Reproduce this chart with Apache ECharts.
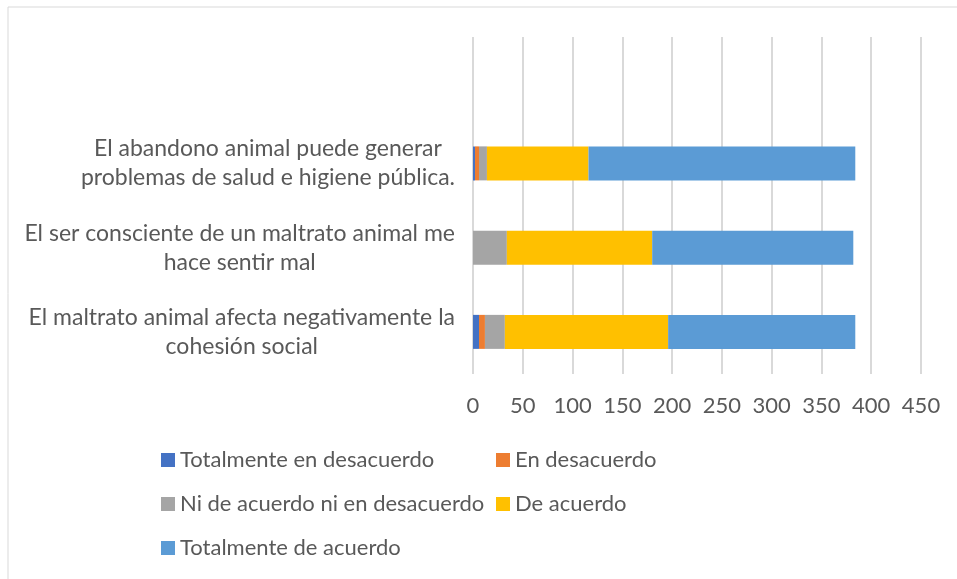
<!DOCTYPE html>
<html>
<head>
<meta charset="utf-8">
<script src="https://cdn.jsdelivr.net/npm/echarts@6/dist/echarts.min.js"></script>
<style>
  html, body { margin: 0; padding: 0; background: #fff; }
  #chart { width: 957px; height: 579px; }
</style>
</head>
<body>
<div id="chart"></div>
<script>
// categories bottom -> top; the top slot is empty in the original chart
const categories = [
  'El maltrato animal afecta negativamente la\ncohesión social',
  'El ser consciente de un maltrato animal me\nhace sentir mal',
  'El abandono animal puede generar\nproblemas de salud e higiene pública.',
  ''
]
const seriesNames = [
  'Totalmente en desacuerdo',
  'En desacuerdo',
  'Ni de acuerdo ni en desacuerdo',
  'De acuerdo',
  'Totalmente de acuerdo'
]
const totDesacuerdo = [6, 0, 2, null]
const enDesacuerdo = [6, 0, 4, null]
const neutral = [20, 34, 8, null]
const deAcuerdo = [164, 146, 102, null]
const totAcuerdo = [188, 202, 268, null]
const xTicks = [0, 50, 100, 150, 200, 250, 300, 350, 400, 450]

const colors = ['#4472C4', '#ED7D31', '#A5A5A5', '#FFC000', '#5B9BD5']
const values = [totDesacuerdo, enDesacuerdo, neutral, deAcuerdo, totAcuerdo]
const font = 'Lato'
const fontSize = 23
const textColor = '#595959'

const chart = echarts.init(document.getElementById('chart'))

chart.setOption({
  animation: false,
  color: colors,
  textStyle: { fontFamily: font },
  graphic: [
    {
      type: 'rect',
      shape: { x: 8, y: 7, width: 1000, height: 700 },
      style: { fill: 'none', stroke: '#D9D9D9', lineWidth: 1 },
      silent: true
    }
  ],
  grid: {
    left: 473,
    right: 36,
    top: 37,
    bottom: 205
  },
  legend: {
    data: seriesNames,
    left: 161,
    top: 443,
    width: 700,
    padding: 0,
    itemWidth: 14,
    itemHeight: 14,
    itemGap: 10,
    icon: 'rect',
    textStyle: {
      fontFamily: font,
      fontSize: 22,
      color: textColor,
      width: 306,
      lineHeight: 34
    }
  },
  xAxis: {
    type: 'value',
    min: xTicks[0],
    max: xTicks[xTicks.length - 1],
    interval: 50,
    axisLine: { show: false },
    axisTick: { show: false },
    splitLine: { lineStyle: { color: '#D9D9D9', width: 2 } },
    axisLabel: {
      color: textColor,
      fontFamily: font,
      fontSize: 22,
      margin: 21
    }
  },
  yAxis: {
    type: 'category',
    data: categories,
    axisLine: { show: false },
    axisTick: { show: false },
    axisLabel: {
      margin: 18,
      color: textColor,
      fontFamily: font,
      fontSize: fontSize,
      lineHeight: 29,
      formatter: v => v ? v.split('\n').map(s => '{c|' + s + '}').join('\n') : '',
      rich: {
        c: { align: 'center', fontFamily: font, fontSize: fontSize, color: textColor, lineHeight: 29 }
      }
    }
  },
  series: seriesNames.map((name, i) => ({
    name,
    type: 'bar',
    stack: 'total',
    barWidth: 34,
    data: values[i]
  }))
})
</script>
</body>
</html>
